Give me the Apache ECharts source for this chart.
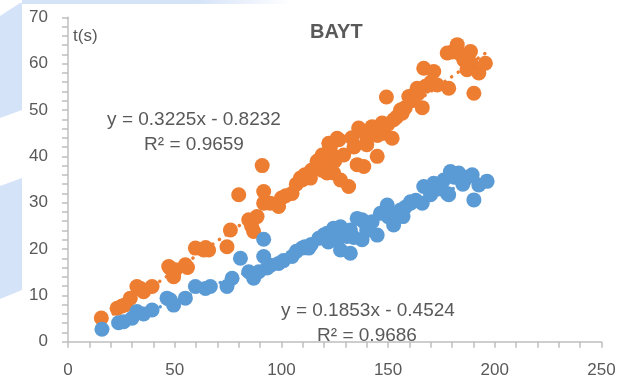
<!DOCTYPE html>
<html>
<head>
<meta charset="utf-8">
<script src="https://cdn.jsdelivr.net/npm/echarts@6/dist/echarts.min.js"></script>
<style>
  html, body { margin: 0; padding: 0; background: #fff; }
  #chart { width: 627px; height: 380px; }
</style>
</head>
<body>
<div id="chart"></div>
<script>
// 数据
var xTicks = [0, 50, 100, 150, 200, 250]
var yTicks = [0, 10, 20, 30, 40, 50, 60, 70]

var orangePoints = [
  [15.6, 5.1], [23, 7.2], [25.3, 7.7], [27, 8], [29.2, 9.4], [32.3, 11.9], [34, 11.5], [35.4, 10.8],
  [39.4, 11.9], [47.2, 16.2], [48, 15.8], [49.5, 14], [50.3, 15.5], [55, 16.6], [56, 16],
  [59.7, 20.2], [63.6, 19.8], [64.5, 20.3], [65.9, 19.8], [74.5, 20.5], [76.1, 24.1], [80, 31.7],
  [84.7, 26.3], [86, 25], [87, 23.8], [88.6, 27], [91, 38], [91.7, 32.4], [91.7, 29.9], [94.8, 29.9],
  [98.7, 29.2], [100, 31], [102, 31.5], [105, 32], [107, 34], [108.9, 35.3], [109.7, 34.9], [111, 36],
  [112, 35.6], [113.6, 35.3], [114, 37], [116.7, 38.9],
  [117.5, 39.2], [118, 38], [119, 37], [119.1, 40.3], [120, 39.5], [121, 37.5], [121.4, 36.4],
  [122, 41], [122.2, 42.8], [123, 42.1], [123.5, 40.5], [124.5, 36.4], [125, 39], [126.1, 43.9],
  [126.9, 43.6], [127.7, 34.9], [129.2, 40.3], [131.5, 33.5], [133, 44], [134, 42], [135.5, 38.2],
  [136.2, 46.1], [137, 45.7], [138.6, 37.8], [140, 44], [140, 42.5], [142.5, 46.4], [143, 45], [144.9, 40],
  [145, 44.5], [146, 46.5], [147.2, 47.2], [148, 45], [149.2, 52.8], [150, 47], [151.9, 43.9],
  [152.6, 47.9], [154, 48.5], [155.8, 50], [156.6, 49.3], [158, 50.5], [159.7, 52.9], [161, 52],
  [163.6, 54.7], [164, 53.5], [166, 50.5], [166.7, 59], [167.5, 55.1], [170, 56], [171.4, 58.3],
  [173, 55.4], [177.7, 62.3], [178.4, 54.7], [180, 62.5], [182.4, 64.1], [184, 62], [185.5, 60.8],
  [187, 58.7], [188.6, 62.6], [189, 60], [190.2, 53.6], [192.5, 58], [195.6, 60.1]
]

var bluePoints = [
  [15.9, 2.7], [23.7, 4.1], [26.1, 4.3], [30, 5.05], [32.3, 6.5], [35.4, 6], [39.4, 6.85],
  [46.4, 9.4], [48, 9], [49.5, 7.9], [55, 9.4], [59.7, 11.9], [64.4, 11.5], [66.7, 11.9],
  [74.5, 11.9], [76.9, 13.7], [80.8, 18], [84.7, 15.1], [87, 13.7], [89.4, 15.1], [91.7, 22.1],
  [91.7, 18.4], [93.3, 15.9], [95, 16.5], [98.7, 16.9], [101, 17.5], [105, 18.4], [107, 19.5],
  [109.7, 20.2], [111, 20.5], [112.8, 20.2], [114, 21], [117.5, 22.3],
  [119.8, 23], [121.4, 23.4], [122, 21.5], [124.5, 24.5], [125, 22], [126.1, 24.5], [127.7, 24.8],
  [127.7, 19.8], [127.7, 22.7], [129, 23.5], [130.8, 22.7], [132.3, 19.1], [132.3, 24.1], [134, 22.5],
  [135.5, 26.6], [137.8, 26.3], [137.8, 22], [138.6, 25.9], [140, 24], [142.5, 25.9], [144.9, 23],
  [146.4, 27.7], [149.6, 29.5], [150, 27], [152.6, 25.2], [153, 27.5], [155.8, 28.4], [157, 27],
  [158, 29], [160.5, 30.2], [160.5, 29.9],
  [163, 30.5], [166, 29.9], [166.7, 33.5], [169.9, 31.7], [171.4, 34.2], [174, 33], [176.1, 34.9],
  [177.7, 32], [178.4, 31.7], [179.2, 36.7], [181, 35.5], [183.1, 36.4], [185, 34], [186, 35],
  [187, 35.5], [189.4, 36], [190.2, 30.6], [192.5, 33.8], [196.4, 34.6]
]

// 趋势线端点
var orangeTrend = [[15, 4.0], [196, 62.4]]
var blueTrend = [[15, 2.3], [196, 35.9]]

var orangeLabel = ['y = 0.3225x - 0.8232', 'R\u00B2 = 0.9659']
var blueLabel = ['y = 0.1853x - 0.4524', 'R\u00B2 = 0.9686']

var myChart = echarts.init(document.getElementById('chart'))
var textColor = '#595959'
var font = 'Liberation Sans'

var option = {
  animation: false,
  backgroundColor: '#fff',
  title: {
    text: 'BAYT',
    left: 305,
    top: 17,
    textStyle: { color: textColor, fontFamily: font, fontWeight: 'bold', fontSize: 20 }
  },
  grid: { left: 68, right: 25.5, top: 17.3, bottom: 38.3 },
  xAxis: {
    type: 'value',
    min: xTicks[0],
    max: xTicks[xTicks.length - 1],
    interval: 50,
    splitLine: { show: false },
    axisLine: { lineStyle: { color: '#BFBFBF', width: 1.5 } },
    axisTick: { show: true, length: 6, lineStyle: { color: '#BFBFBF', width: 1.5 } },
    minorTick: { show: true, splitNumber: 5, length: 6, lineStyle: { color: '#BFBFBF', width: 1.5 } },
    axisLabel: { color: textColor, fontFamily: font, fontSize: 17, margin: 20 }
  },
  yAxis: {
    type: 'value',
    min: yTicks[0],
    max: yTicks[yTicks.length - 1],
    interval: 10,
    splitLine: { show: false },
    axisLine: { show: true, lineStyle: { color: '#BFBFBF', width: 1.5 } },
    axisTick: { show: true, length: 6, lineStyle: { color: '#BFBFBF', width: 1.5 } },
    minorTick: { show: true, splitNumber: 5, length: 6, lineStyle: { color: '#BFBFBF', width: 1.5 } },
    axisLabel: { color: textColor, fontFamily: font, fontSize: 17, margin: 20 }
  },
  graphic: [
    // 左侧背景残影
    { type: 'polygon', z: -10, shape: { points: [[0, 16], [20, 3], [22, 3], [22, 110], [0, 118]] }, style: { fill: '#D5E3F9' } },
    { type: 'polygon', z: -10, shape: { points: [[0, 186], [22, 178], [22, 290], [0, 299]] }, style: { fill: '#D5E3F9' } },
    {
      type: 'rect', z: -10, shape: { x: 22, y: 0, width: 270, height: 4 },
      style: {
        fill: new echarts.graphic.LinearGradient(0, 0, 1, 0, [
          { offset: 0, color: '#D5E3F9' },
          { offset: 0.65, color: '#D5E3F9' },
          { offset: 1, color: 'rgba(213,227,249,0)' }
        ])
      }
    },
    { type: 'text', left: 73, top: 28, style: { text: 't(s)', fill: textColor, font: '17px "Liberation Sans"' } },
    { type: 'text', x: 194, y: 120, style: { text: orangeLabel[0], fill: textColor, font: '19px "Liberation Sans"', align: 'center', verticalAlign: 'middle' } },
    { type: 'text', x: 194, y: 145, style: { text: orangeLabel[1], fill: textColor, font: '19px "Liberation Sans"', align: 'center', verticalAlign: 'middle' } },
    { type: 'text', x: 368, y: 311, style: { text: blueLabel[0], fill: textColor, font: '19px "Liberation Sans"', align: 'center', verticalAlign: 'middle' } },
    { type: 'text', x: 367, y: 336, style: { text: blueLabel[1], fill: textColor, font: '19px "Liberation Sans"', align: 'center', verticalAlign: 'middle' } }
  ],
  series: [
    {
      name: 'orangeTrend',
      type: 'line',
      data: orangeTrend,
      symbol: 'none',
      z: 1,
      lineStyle: { color: '#ED7D31', width: 3.5, type: [0.1, 8], cap: 'round' }
    },
    {
      name: 'blueTrend',
      type: 'line',
      data: blueTrend,
      symbol: 'none',
      z: 1,
      lineStyle: { color: '#5B9BD5', width: 3.5, type: [0.1, 8], cap: 'round' }
    },
    {
      name: 'orange',
      type: 'scatter',
      data: orangePoints,
      symbolSize: 15,
      z: 2,
      itemStyle: { color: '#ED7D31', opacity: 1 }
    },
    {
      name: 'blue',
      type: 'scatter',
      data: bluePoints,
      symbolSize: 15,
      z: 3,
      itemStyle: { color: '#5B9BD5', opacity: 1 }
    }
  ]
}

myChart.setOption(option)
window.onresize = function () {
  myChart.resize()
}
</script>
</body>
</html>
